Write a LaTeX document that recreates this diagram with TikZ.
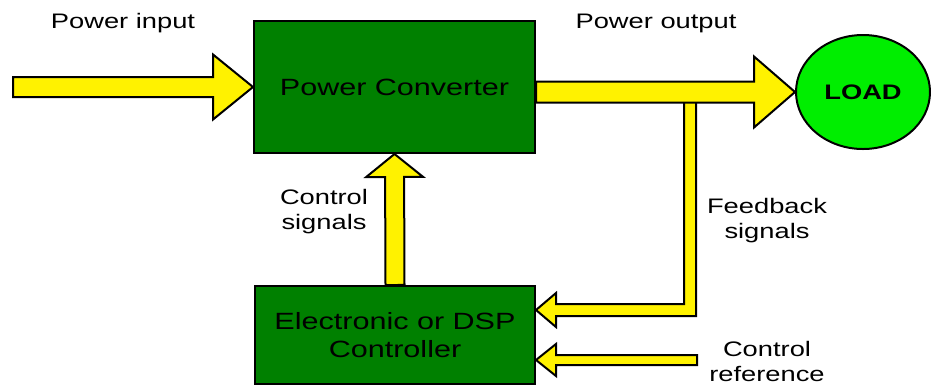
\documentclass[tikz,border=0pt]{standalone}
\usepackage{fontspec}
\setmainfont[FakeStretch=1.3]{Liberation Sans}
\usetikzlibrary{calc,shapes.geometric}
\definecolor{blkgreen}{RGB}{0,128,0}
\definecolor{loadgreen}{RGB}{0,238,0}
\newcommand\fatarrow[5]{%
  \coordinate (fa-b) at ($(#2)!#5!(#1)$);
  \draw[fat] ($(#1)!#3!90:(#2)$) -- ($(fa-b)!#3!-90:(#1)$) -- ($(fa-b)!#4!-90:(#1)$) -- (#2)
    -- ($(fa-b)!#4!90:(#1)$) -- ($(fa-b)!#3!90:(#1)$) -- ($(#1)!#3!-90:(#2)$) -- cycle;}
\begin{document}
\begin{tikzpicture}[x=0.5pt,y=-0.5pt,
  blk/.style={draw,line width=1pt,fill=blkgreen,align=center,inner sep=0pt,font=\fontsize{11.75}{14}\selectfont},
  lbl/.style={align=center,inner sep=0pt,font=\fontsize{10.5}{12.5}\selectfont},
  fat/.style={draw,line width=1pt,fill=yellow,line join=miter}]
\useasboundingbox (0,0) rectangle (931,387);
\node[blk,minimum width=140.5pt,minimum height=66pt] (conv) at (394.5,87) {Power Converter};
\node[blk,minimum width=140pt,minimum height=49pt] (ctrl) at (395,335) {Electronic or DSP\\Controller};
\node[ellipse,draw,line width=1pt,fill=loadgreen,minimum width=67pt,minimum height=57pt,inner sep=0pt,
  font=\fontsize{10.5}{12.5}\selectfont\bfseries] (load) at (863,92) {LOAD};
\node[lbl,anchor=base] (lin) at (123,28) {Power input};
\node[lbl,anchor=base] (lout) at (656,28) {Power output};
\node[lbl] (lcs) at (324,212) {Control\\signals};
\node[lbl] (lfb) at (767,221) {Feedback\\signals};
\node[lbl] (lcr) at (767,361) {Control\\reference};
\coordinate (pin) at (13,87);
\coordinate (pout) at (conv.east |- load.west);
\coordinate (fbtop) at (690,95);
\coordinate (fbtip) at ($(ctrl.east)+(0,-25)$);
\coordinate (cref) at (697,360);
\coordinate (creftip) at ($(ctrl.east)+(0,25)$);
\draw[fat] ($(fbtop)+(-6,0)$) |- ($(fbtip)+(20,-6)$) -- ++(0,-11) -- (fbtip) -- ++(20,17) -- ++(0,-11)
  -| ($(fbtop)+(6,0)$) -- cycle;
\fatarrow{pin}{conv.west}{5pt}{16.25pt}{20pt}
\fatarrow{pout}{load.west}{5.25pt}{17.75pt}{20.5pt}
\fatarrow{ctrl.north}{conv.south}{4.75pt}{14.25pt}{11.5pt}
\fatarrow{cref}{creftip}{2.5pt}{8pt}{10pt}
\end{tikzpicture}
\end{document}
